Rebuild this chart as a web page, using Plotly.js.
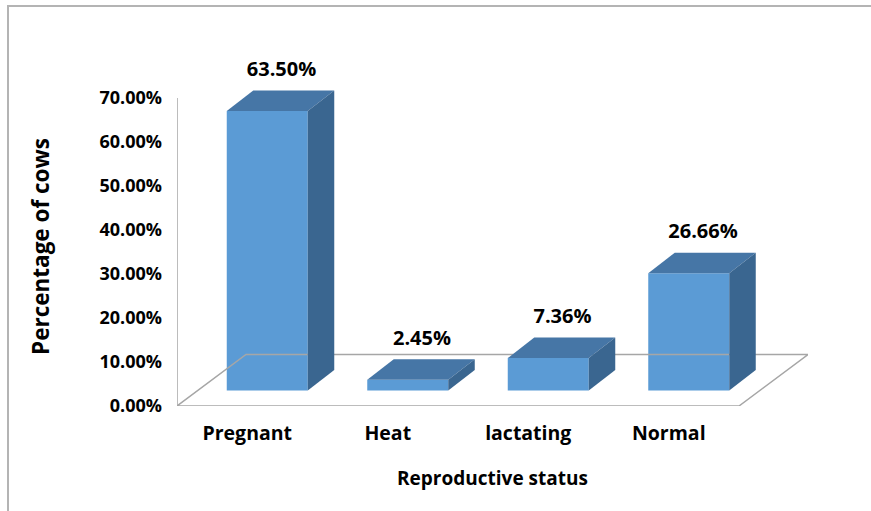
<!DOCTYPE html>
<html>
<head>
<meta charset="utf-8">
<script src="https://cdn.plot.ly/plotly-3.0.1.min.js"></script>
<style>html,body{margin:0;padding:0;background:#fff;}#chart{width:871px;height:511px;}</style>
</head>
<body>
<div id="chart"></div>
<script>
// ---- data ----
var categories = ["Pregnant", "Heat", "lactating", "Normal"];
var percentages = [63.50, 2.45, 7.36, 26.66];
var labelTexts = ["63.50%", "2.45%", "7.36%", "26.66%"];
var yTickValues = [0, 10, 20, 30, 40, 50, 60, 70];
var yTickLabels = ["0.00%", "10.00%", "20.00%", "30.00%", "40.00%", "50.00%", "60.00%", "70.00%"];
var xTitle = "Reproductive status";
var yTitle = "Percentage of cows";

// ---- pseudo-3D geometry (axis units) ----
var PX_X = 140.5;          // px per category unit
var PX_Y = 4.4;            // px per percent
var FRONT_DX = 20 / PX_X, FRONT_DY = 15.5 / PX_Y;   // bar front plane offset
var DEPTH_DX = 26.5 / PX_X, DEPTH_DY = 20.5 / PX_Y; // bar depth
var BAR_W = 81 / PX_X;
var FLOOR_DX = 69 / PX_X, FLOOR_DY = 51.5 / PX_Y;
var LABEL_DX = 1 / PX_X, LABEL_DY = 19.5 / PX_Y;

var FRONT = '#5B9BD5', TOP = '#4676A6', SIDE = '#3A6690', EDGE = '#A6A6A6';
var FONT = '"Open Sans", sans-serif';

var idx = categories.map(function (c, i) { return i; });
var traces = [];

// vertical axis line (0 .. 70%)
traces.push({
  type: 'scatter', mode: 'lines', hoverinfo: 'skip', cliponaxis: false,
  x: [-0.5, -0.5], y: [yTickValues[0], yTickValues[yTickValues.length - 1]],
  line: {color: EDGE, width: 1.5}
});

// floor outline
traces.push({
  type: 'scatter', mode: 'lines', hoverinfo: 'skip', cliponaxis: false,
  x: [-0.5, 3.5, 3.5 + FLOOR_DX, -0.5 + FLOOR_DX, -0.5],
  y: [0, 0, FLOOR_DY, FLOOR_DY, 0],
  line: {color: EDGE, width: 1.5}
});

// front faces
traces.push({
  type: 'bar', hoverinfo: 'skip',
  x: idx.map(function (i) { return i + FRONT_DX; }),
  y: percentages,
  base: percentages.map(function () { return FRONT_DY; }),
  width: BAR_W,
  marker: {color: FRONT, line: {width: 0}}
});

// top and side faces
idx.forEach(function (i) {
  var v = percentages[i];
  var x0 = i + FRONT_DX - BAR_W / 2, x1 = i + FRONT_DX + BAR_W / 2;
  var yb = FRONT_DY, yt = FRONT_DY + v;
  traces.push({
    type: 'scatter', mode: 'lines', fill: 'toself', fillcolor: TOP, hoverinfo: 'skip',
    line: {width: 0, color: TOP},
    x: [x0, x1, x1 + DEPTH_DX, x0 + DEPTH_DX, x0],
    y: [yt, yt, yt + DEPTH_DY, yt + DEPTH_DY, yt]
  });
  traces.push({
    type: 'scatter', mode: 'lines', fill: 'toself', fillcolor: SIDE, hoverinfo: 'skip',
    line: {width: 0, color: SIDE},
    x: [x1, x1, x1 + DEPTH_DX, x1 + DEPTH_DX, x1],
    y: [yb, yt, yt + DEPTH_DY, yb + DEPTH_DY, yb]
  });
});

// data labels
traces.push({
  type: 'scatter', mode: 'text', hoverinfo: 'skip',
  x: idx.map(function (i) { return i + FRONT_DX + DEPTH_DX / 2 + LABEL_DX; }),
  y: percentages.map(function (v) { return FRONT_DY + v + DEPTH_DY + LABEL_DY; }),
  text: labelTexts, textposition: 'middle center',
  textfont: {family: FONT, size: 20, color: '#000', weight: 'bold'}
});

var layout = {
  width: 871, height: 511,
  margin: {l: 177, r: 63, t: 54, b: 105},
  paper_bgcolor: '#fff', plot_bgcolor: 'rgba(0,0,0,0)',
  showlegend: false, hovermode: false,
  xaxis: {
    type: 'linear', range: [-0.5, 3.5 + FLOOR_DX], fixedrange: true,
    tickmode: 'array', tickvals: idx, ticktext: categories,
    showgrid: false, zeroline: false, showline: false, ticks: '',
    ticklabelstandoff: 13,
    tickfont: {family: FONT, size: 19.5, color: '#000', weight: 'bold'},
    title: {text: xTitle, standoff: 27,
            font: {family: FONT, size: 19, color: '#000', weight: 'bold'}}
  },
  yaxis: {
    range: [0, 80], fixedrange: true,
    tickmode: 'array', tickvals: yTickValues, ticktext: yTickLabels,
    showgrid: false, zeroline: false, showline: false, ticks: '',
    ticklabelstandoff: 14,
    tickfont: {family: FONT, size: 18, color: '#000', weight: 'bold'}
  },
  annotations: [{
    text: yTitle, textangle: -90, showarrow: false,
    xref: 'paper', x: (40 - 177) / 631, xanchor: 'center',
    yref: 'y', y: (yTickValues[0] + yTickValues[yTickValues.length - 1]) / 2,
    yanchor: 'middle', yshift: 5,
    font: {family: FONT, size: 22.5, color: '#000', weight: 'bold'}
  }],
  shapes: [{
    type: 'rect', xref: 'paper', yref: 'paper', layer: 'below',
    x0: (8 - 177) / 631, x1: (890 - 177) / 631,
    y0: (406 - 530) / 352, y1: (406 - 6) / 352,
    line: {color: '#B4B4B4', width: 2}, fillcolor: 'rgba(0,0,0,0)'
  }]
};

Plotly.newPlot('chart', traces, layout, {displayModeBar: false, staticPlot: true});
</script>
</body>
</html>
